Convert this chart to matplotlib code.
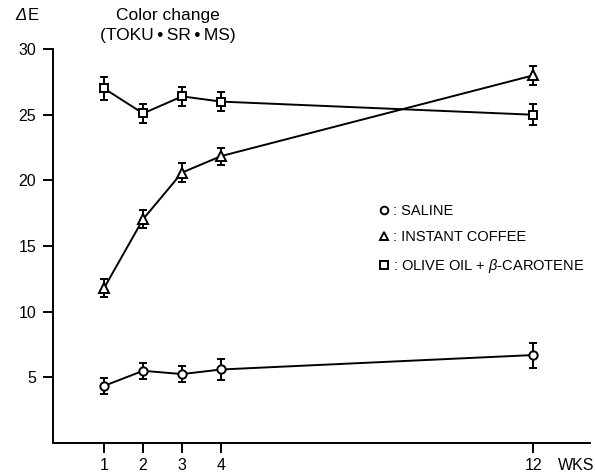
import matplotlib
matplotlib.use("Agg")
import matplotlib.pyplot as plt
from matplotlib.lines import Line2D

plt.rcParams.update({"font.family": "Liberation Sans", "font.size": 10,
                     "mathtext.fontset": "custom",
                     "mathtext.it": "Liberation Sans:italic",
                     "mathtext.rm": "Liberation Sans"})

# data
weeks = [1, 2, 3, 4, 12]
week_labels = ["1", "2", "3", "4", "12"]

saline = [4.35, 5.5, 5.25, 5.6, 6.7]
saline_err = [0.6, 0.63, 0.62, 0.8, 0.95]

coffee = [11.8, 17.05, 20.6, 21.85, 28.0]
coffee_err = [0.7, 0.67, 0.7, 0.65, 0.7]

olive = [27.0, 25.1, 26.4, 26.0, 25.0]
olive_err = [0.85, 0.7, 0.75, 0.75, 0.8]

series_labels = [": SALINE", ": INSTANT COFFEE", r": OLIVE OIL $+$ $\mathit{\beta}$-CAROTENE"]
markers = ["o", "^", "s"]

fig = plt.figure(figsize=(5.95, 4.72), dpi=100)
ax = fig.add_axes([0.089, 0.0614, 0.903, 0.8346])

handles = []
for vals, errs, mk in zip([saline, coffee, olive], [saline_err, coffee_err, olive_err], markers):
    ms = 7 if mk == "^" else 6
    ax.errorbar(weeks, vals, yerr=errs, fmt="-", marker=mk, color="black",
                mfc="white", mec="black", ms=ms, mew=1.4, lw=1.4,
                elinewidth=1.4, capsize=3, capthick=1.4, zorder=3)
    handles.append(Line2D([], [], ls="none", marker=mk, mfc="white", mec="black",
                          ms=5.5, mew=1.4))

ax.set_xlim(-0.31, 13.46)
ax.set_ylim(0, 30)
ax.set_xticks(weeks)
ax.set_xticklabels(week_labels)
ax.set_yticks([5, 10, 15, 20, 25, 30])
ax.spines["top"].set_visible(False)
ax.spines["right"].set_visible(False)
for s in ["left", "bottom"]:
    ax.spines[s].set_linewidth(1.4)
ax.tick_params(axis="both", direction="out", width=1.4, labelsize=11.5)
ax.tick_params(axis="x", length=7, pad=4)
ax.tick_params(axis="y", length=7, pad=5)

ax.annotate("WKS", xy=(13.1, 0), xycoords="data", xytext=(0, -11),
            textcoords="offset points", ha="center", va="top", fontsize=11.5)

ax.legend(handles, series_labels, loc="upper left", bbox_to_anchor=(0.628, 0.58),
          bbox_transform=fig.transFigure, frameon=False, handlelength=0.6,
          handletextpad=0.3, labelspacing=0.85, fontsize=10.5, borderaxespad=0)

fig.text(0.282, 0.968, "Color change", ha="center", va="center", fontsize=12.5)
fig.text(0.282, 0.925, "(TOKU\u2009\u2022\u2009SR\u2009\u2022\u2009MS)", ha="center",
         va="center", fontsize=12.5)
fig.text(0.025, 0.968, "\u0394", ha="left", va="center", fontsize=12, style="italic")
fig.text(0.046, 0.968, "E", ha="left", va="center", fontsize=12)

fig.savefig("out.png", dpi=100)
